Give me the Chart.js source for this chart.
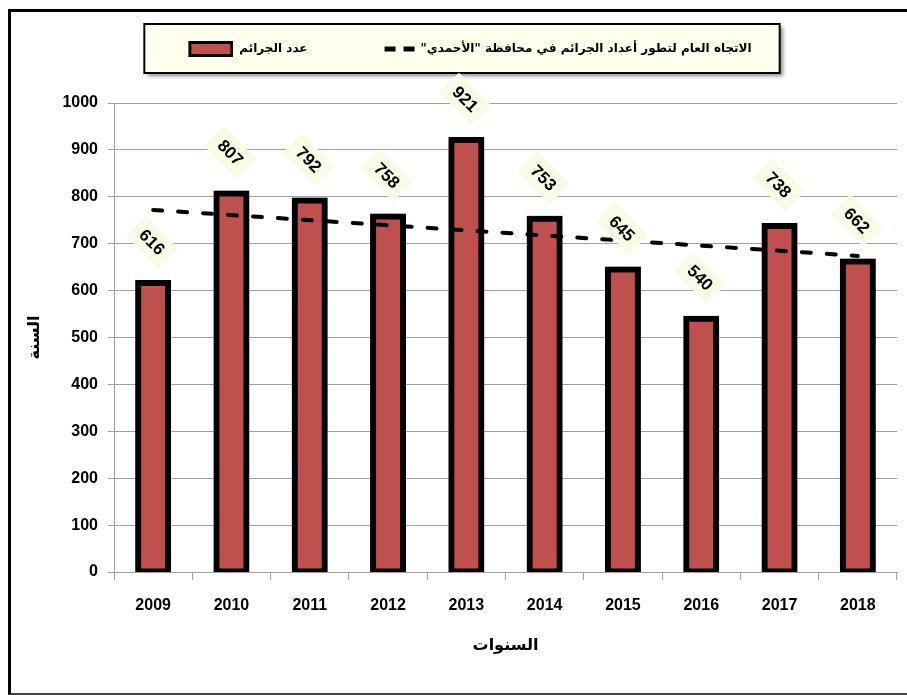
<!DOCTYPE html>
<html><head><meta charset="utf-8">
<script src="https://cdn.jsdelivr.net/npm/chart.js@4/dist/chart.umd.min.js"></script>
<style>
html,body{margin:0;padding:0;background:#fff;width:907px;height:695px;overflow:hidden}
#c{position:absolute;left:0;top:0}
#frame{position:absolute;left:8px;top:9px;width:899px;height:686px;box-sizing:border-box;border-top:3px solid #000;border-left:3px solid #000;border-bottom:2px solid #444;pointer-events:none}
</style></head>
<body>
<canvas id="c" width="907" height="695"></canvas>
<div id="frame"></div>
<script>
// ---- data ----
const years = ['2009','2010','2011','2012','2013','2014','2015','2016','2017','2018'];
const crimes = [616, 807, 792, 758, 921, 753, 645, 540, 738, 662];
// trend line end points (straight line between them)
const trendStart = 772;
const trendEnd = 674;
const yMin = 0, yMax = 1000, yStep = 100;
const seriesBars = 'عدد الجرائم';
const seriesTrend = 'الاتجاه العام لتطور أعداد الجرائم في محافظة "الأحمدي"';
const xTitle = 'السنوات';
const yTitle = 'السنة';

const trendData = years.map((y, i) => i === 0 ? trendStart : (i === years.length - 1 ? trendEnd : null));

const numFont = '"Liberation Sans", Arial, sans-serif';
const arFont = '"DejaVu Sans", sans-serif';
const grid = '#A0A0A0';
const barRed = '#C0504D';

// legend swatch for the bars (right part of a wide legend box)
const LBOX = 71;
const swatch = document.createElement('canvas');
swatch.width = LBOX; swatch.height = 16;
(function () {
  const c = swatch.getContext('2d');
  c.fillStyle = '#000'; c.fillRect(LBOX - 45, 0, 45, 16);
  c.fillStyle = barRed; c.fillRect(LBOX - 42, 3, 39, 10);
})();

const legendBg = {
  id: 'legendBg',
  beforeDraw(chart) {
    const lg = chart.legend;
    if (!lg || !lg.legendHitBoxes || !lg.legendHitBoxes.length) return;
    let minL = Infinity, maxR = -Infinity, cy = 0;
    lg.legendHitBoxes.forEach(h => { minL = Math.min(minL, h.left); maxR = Math.max(maxR, h.left + h.width); cy = h.top + h.height / 2; });
    const ctx = chart.ctx;
    const x0 = minL + (LBOX - 45) - 44, x1 = maxR + 28, y0 = cy - 25, y1 = cy + 24;
    ctx.save();
    ctx.shadowColor = 'rgba(0,0,0,0.45)';
    ctx.shadowBlur = 4; ctx.shadowOffsetX = 3; ctx.shadowOffsetY = 3;
    ctx.fillStyle = '#FFFFEE';
    ctx.fillRect(x0, y0, x1 - x0, y1 - y0);
    ctx.restore();
    ctx.save();
    ctx.strokeStyle = '#000'; ctx.lineWidth = 2;
    ctx.strokeRect(x0, y0, x1 - x0, y1 - y0);
    ctx.restore();
  }
};

const barShadow = {
  id: 'barShadow',
  beforeDatasetDraw(chart, args) {
    if (args.index !== 0) return;
    const ctx = chart.ctx;
    ctx.save();
    ctx.shadowColor = 'rgba(0,0,0,0.4)';
    ctx.shadowBlur = 6; ctx.shadowOffsetX = 0; ctx.shadowOffsetY = 0;
  },
  afterDatasetDraw(chart, args) {
    if (args.index !== 0) return;
    chart.ctx.restore();
  }
};

const valueLabels = {
  id: 'valueLabels',
  afterDatasetsDraw(chart) {
    const meta = chart.getDatasetMeta(0);
    const ctx = chart.ctx;
    const data = chart.data.datasets[0].data;
    meta.data.forEach((bar, i) => {
      const txt = String(data[i]);
      ctx.save();
      ctx.translate(bar.x - 1, bar.y - 41);
      ctx.rotate(Math.PI / 4);
      ctx.font = 'bold 17px "Liberation Sans", sans-serif';
      const w = ctx.measureText(txt).width;
      ctx.fillStyle = '#FAFBE4';
      ctx.fillRect(-w / 2 - 9, -14, w + 18, 28);
      ctx.fillStyle = '#000';
      ctx.textAlign = 'center';
      ctx.textBaseline = 'middle';
      ctx.fillText(txt, 0, 1);
      ctx.restore();
    });
  }
};

new Chart(document.getElementById('c'), {
  data: {
    labels: years,
    datasets: [
      {
        type: 'bar',
        label: seriesBars,
        data: crimes,
        backgroundColor: barRed,
        borderColor: '#000',
        borderWidth: 6,
        borderSkipped: false,
        inflateAmount: 3,
        barPercentage: 0.383,
        categoryPercentage: 1,
        order: 1
      },
      {
        type: 'line',
        label: seriesTrend,
        data: trendData,
        spanGaps: true,
        borderColor: '#000',
        borderWidth: 4,
        borderDash: [9, 16],
        borderCapStyle: 'round',
        pointRadius: 0,
        fill: false,
        order: 0
      }
    ]
  },
  options: {
    responsive: false,
    devicePixelRatio: 1,
    animation: false,
    layout: { padding: { top: 7, left: 17, right: 10, bottom: 5 } },
    plugins: {
      title: { display: true, text: '', weight: 500, padding: { top: 26, bottom: 0 }, font: { size: 10 } },
      tooltip: { enabled: false },
      legend: {
        display: true,
        position: 'top',
        rtl: false,
        textDirection: 'rtl',
        labels: {
          usePointStyle: true,
          pointStyleWidth: LBOX,
          boxHeight: 9,
          padding: 36,
          color: '#000',
          font: { family: arFont, size: 12, weight: 'bold' },
          sort: (a, b) => a.datasetIndex - b.datasetIndex,
          generateLabels(chart) {
            const items = Chart.defaults.plugins.legend.labels.generateLabels(chart);
            items.forEach(it => {
              if (it.datasetIndex === 0) {
                it.pointStyle = swatch; it.lineWidth = 0; it.lineDash = [];
              } else {
                it.pointStyle = 'line'; it.strokeStyle = '#000'; it.lineWidth = 5;
                it.lineDash = [0, LBOX - 30, 11, 8, 11, 200]; it.lineCap = 'butt';
              }
            });
            return items;
          }
        }
      }
    },
    scales: {
      x: {
        afterFit(scale) { scale.height = 118; },
        grid: { display: true, drawOnChartArea: false, drawTicks: true, tickLength: 8, color: grid, offset: true },
        border: { display: true, color: grid, width: 1 },
        ticks: { color: '#000', padding: 16, font: { family: numFont, size: 16, weight: 'bold' } },
        title: { display: true, text: xTitle, color: '#000', padding: { top: 0, bottom: 35 }, font: { family: arFont, size: 16, weight: 'bold' } }
      },
      y: {
        min: yMin, max: yMax,
        afterFit(scale) { scale.width = 97; },
        grid: { color: grid, lineWidth: 1, tickLength: 6, drawTicks: true },
        border: { display: true, color: grid, width: 1 },
        ticks: { stepSize: yStep, color: '#000', padding: 10, callback: v => String(v), font: { family: numFont, size: 16, weight: 'bold' } },
        title: { display: true, text: yTitle, color: '#000', padding: { top: 8, bottom: 0 }, font: { family: arFont, size: 16, weight: 'bold' } }
      }
    }
  },
  plugins: [legendBg, barShadow, valueLabels]
});
</script>
</body></html>
